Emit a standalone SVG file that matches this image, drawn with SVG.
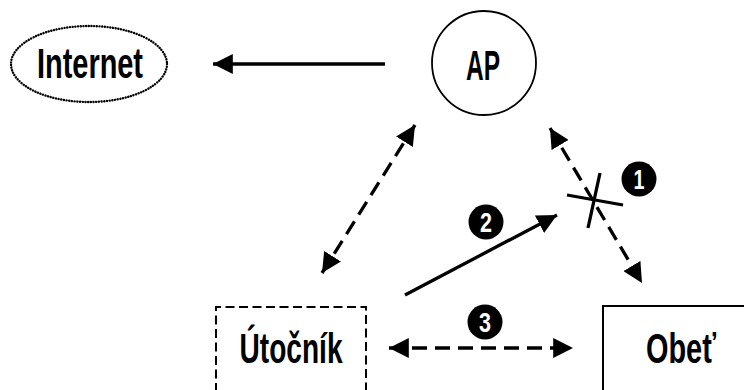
<svg xmlns="http://www.w3.org/2000/svg" width="744" height="390" viewBox="0 0 744 390">
  <defs>
    <marker id="head" viewBox="0 0 10 10" refX="10" refY="5" markerWidth="6" markerHeight="6" orient="auto-start-reverse" markerUnits="strokeWidth">
      <path d="M0,0 L10,5 L0,10 z" fill="#000"/>
    </marker>
    <style>
      .label { font-family: "Liberation Sans", Arial, sans-serif; font-size: 42px; font-weight: bold; fill: #000; text-anchor: middle; }
      .num { font-family: "Liberation Sans", Arial, sans-serif; font-size: 28px; font-weight: bold; fill: #fff; text-anchor: middle; }
      .badge { fill: #000; }
      .solid { stroke: #000; stroke-width: 3.3; fill: none; }
      .dashed { stroke: #000; stroke-width: 3.3; fill: none; stroke-dasharray: 15 8; }
    </style>
  </defs>
  <rect width="744" height="390" fill="#fff"/>

  <!-- Nodes -->
  <g id="internet">
    <ellipse cx="89" cy="64" rx="78" ry="38" fill="none" stroke="#000" stroke-width="2.4" stroke-dasharray="0.1 2.6" stroke-linecap="round"/>
    <text class="label" x="90" y="78" textLength="106" lengthAdjust="spacingAndGlyphs">Internet</text>
  </g>
  <g id="ap">
    <circle cx="484" cy="63" r="52" fill="none" stroke="#000" stroke-width="1.8"/>
    <text class="label" x="483" y="80" textLength="34" lengthAdjust="spacingAndGlyphs">AP</text>
  </g>
  <g id="utocnik">
    <path d="M216,392 V307 H366 V392" fill="none" stroke="#000" stroke-width="2" stroke-dasharray="9 4.5"/>
    <text class="label" x="291" y="363" textLength="103" lengthAdjust="spacingAndGlyphs">Útočník</text>
  </g>
  <g id="obet">
    <path d="M603,392 V306 H746" fill="none" stroke="#000" stroke-width="2"/>
    <text class="label" x="681" y="363" textLength="70" lengthAdjust="spacingAndGlyphs">Obeť</text>
  </g>

  <!-- Connectors -->
  <g id="connectors">
    <line class="solid" x1="385" y1="64" x2="213" y2="64" marker-end="url(#head)"/>
    <line class="dashed" x1="322" y1="273" x2="415" y2="125" marker-start="url(#head)" marker-end="url(#head)"/>
    <line class="dashed" x1="550" y1="128" x2="642" y2="283" marker-start="url(#head)" marker-end="url(#head)"/>
    <line class="solid" x1="405" y1="295" x2="557" y2="215" marker-end="url(#head)"/>
    <line class="dashed" x1="389" y1="348" x2="573" y2="348" marker-start="url(#head)" marker-end="url(#head)"/>
    <!-- blocked link cross -->
    <line class="solid" x1="567" y1="195" x2="623" y2="205"/>
    <line class="solid" x1="600" y1="173" x2="588" y2="228"/>
  </g>

  <!-- Step badges -->
  <g id="step1">
    <circle class="badge" cx="639" cy="179" r="17.5"/>
    <text class="num" x="639" y="189" textLength="11" lengthAdjust="spacingAndGlyphs">1</text>
  </g>
  <g id="step2">
    <circle class="badge" cx="486" cy="222" r="17.5"/>
    <text class="num" x="486" y="232" textLength="12" lengthAdjust="spacingAndGlyphs">2</text>
  </g>
  <g id="step3">
    <circle class="badge" cx="485" cy="322" r="17.5"/>
    <text class="num" x="485" y="332" textLength="12" lengthAdjust="spacingAndGlyphs">3</text>
  </g>
</svg>
